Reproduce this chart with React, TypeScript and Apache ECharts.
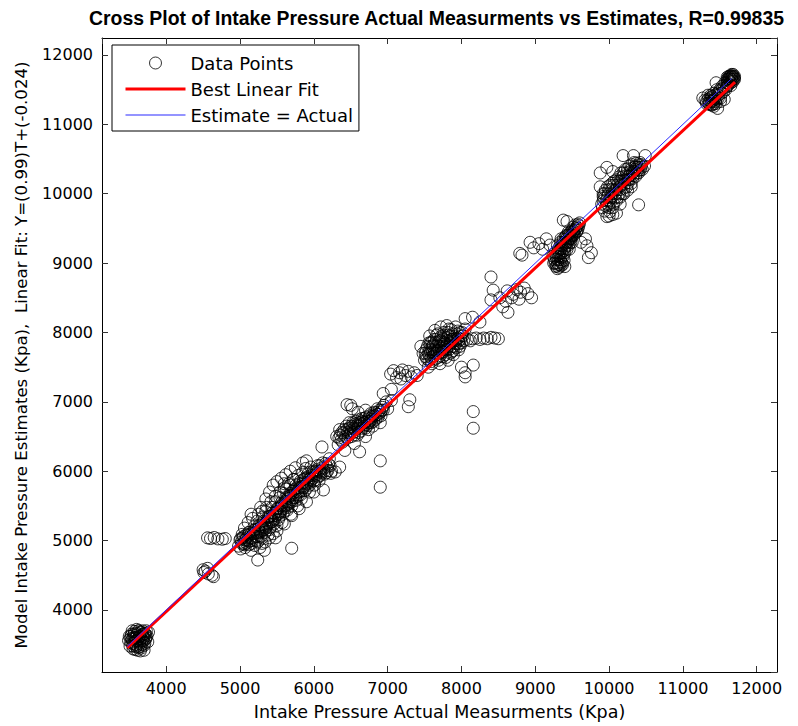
import React, { useEffect, useRef } from "react";
import * as echarts from "echarts";

// ---- axis settings (Kpa) ----
const X_MIN = 3130;
const X_MAX = 12275;
const Y_MIN = 3106;
const Y_MAX = 12245;
const TICK_STEP = 1000;

const TITLE = "Cross Plot of Intake Pressure Actual Measurments vs Estimates, R=0.99835";
const X_NAME = "Intake Pressure Actual Measurments (Kpa)";
const Y_NAME = "Model Intake Pressure Estimates (Kpa),  Linear Fit: Y=(0.99)T+(-0.024)";
const LEGEND = ["Data Points", "Best Linear Fit", "Estimate = Actual"];

// ---- data points [actual, estimate] ----
const clusterA = [
  [3490, 3560], [3500, 3620], [3510, 3480], [3520, 3590], [3530, 3650], [3540, 3520], [3550, 3440],
  [3560, 3600], [3570, 3690], [3580, 3550], [3590, 3470], [3600, 3640], [3610, 3420], [3620, 3580],
  [3630, 3700], [3640, 3510], [3650, 3620], [3660, 3450], [3670, 3680], [3680, 3560], [3690, 3610],
  [3700, 3490], [3710, 3660], [3720, 3580], [3730, 3700], [3740, 3630], [3750, 3540], [3760, 3680],
  [3540, 3700], [3600, 3720], [3580, 3430], [3650, 3410], [3700, 3420],
  [3520, 3540], [3540, 3580], [3560, 3520], [3560, 3640], [3580, 3600], [3590, 3500], [3600, 3560],
  [3610, 3660], [3620, 3460], [3630, 3610], [3640, 3540], [3650, 3680], [3660, 3590], [3670, 3500],
  [3680, 3640], [3690, 3550], [3700, 3600], [3710, 3520], [3720, 3650], [3730, 3600], [3550, 3480],
  [3600, 3480], [3650, 3470], [3570, 3660], [3620, 3700], [3680, 3700], [3520, 3620], [3700, 3660],
  [3640, 3620], [3590, 3600],
];

const cluster4500 = [
  [4500, 4580], [4530, 4560], [4560, 4600], [4570, 4520], [4620, 4500], [4640, 4480], [4510, 4540],
  [4560, 5040], [4600, 5030], [4650, 5045], [4700, 5025], [4760, 5020], [4800, 5030],
];

const clusterB = [
  [4980, 4920], [5000, 5010], [5010, 4880], [5030, 5090], [5050, 4960], [5060, 5180], [5070, 4900],
  [5090, 5040], [5110, 5260], [5120, 4940], [5130, 5120], [5150, 4860], [5160, 5000], [5170, 5320],
  [5190, 5200], [5200, 4930], [5210, 5060], [5230, 5280], [5240, 4980], [5250, 5380], [5260, 5140],
  [5270, 4900], [5290, 5240], [5300, 5040], [5310, 5340], [5330, 5160], [5340, 4980], [5350, 5420],
  [5370, 5260], [5380, 5080], [5400, 5350], [5410, 5190], [5430, 5480], [5440, 5280], [5450, 5100],
  [5470, 5400], [5480, 5560], [5500, 5220], [5510, 5460], [5530, 5340], [5540, 5620], [5560, 5500],
  [5570, 5260], [5590, 5680], [5600, 5420], [5620, 5560], [5630, 5740], [5650, 5480], [5660, 5640],
  [5680, 5800], [5690, 5380], [5700, 5560], [5720, 5720], [5730, 5880], [5750, 5620], [5760, 5800],
  [5780, 5500], [5790, 5940], [5800, 5700], [5820, 5860], [5830, 5600], [5850, 5980], [5860, 5760],
  [5880, 5900], [5890, 6040], [5910, 5820], [5920, 5960], [5940, 5700], [5960, 6060], [5970, 5880],
  [5990, 6000], [6010, 5800], [6030, 5940], [6050, 6080], [6070, 5860], [6090, 6000], [6120, 6120],
  [6150, 5960], [6180, 6060], [6210, 6180], [6240, 6000],
  [5450, 5800], [5500, 5850], [5560, 5900], [5620, 5950], [5680, 6000], [5600, 5820], [5400, 5700],
  [5350, 5600], [5750, 6050], [5850, 6120], [5900, 6150],
  [5240, 4720], [5700, 4890], [6110, 6350], [6130, 5730], [6290, 5990], [6350, 6060], [6230, 5970],
  [5330, 4860], [5480, 5040], [5150, 5380], [5280, 5480],
  [5020, 4980], [5040, 5040], [5060, 4940], [5080, 5080], [5100, 5000], [5120, 5120], [5140, 5040],
  [5160, 4960], [5180, 5100], [5200, 5160], [5220, 5000], [5240, 5120], [5260, 5220], [5280, 5060],
  [5300, 5180], [5320, 5280], [5340, 5120], [5360, 5220], [5380, 5340], [5400, 5160], [5420, 5300],
  [5440, 5400], [5460, 5240], [5480, 5360], [5500, 5460], [5520, 5300], [5540, 5420], [5560, 5540],
  [5580, 5380], [5600, 5500], [5620, 5620], [5640, 5440], [5660, 5560], [5680, 5680], [5700, 5500],
  [5720, 5620], [5740, 5740], [5760, 5580], [5780, 5700], [5800, 5820], [5820, 5660], [5840, 5780],
  [5860, 5880], [5880, 5720], [5900, 5840], [5920, 5920], [5940, 5800], [5960, 5900], [5980, 5980],
  [6000, 5860], [6020, 5960], [6040, 6020], [6060, 5920], [6080, 6080], [6100, 5980], [6130, 6040],
  [6160, 6110], [6190, 6010], [6220, 6080],
  [5010, 5030], [5030, 4950], [5050, 5060], [5070, 5010], [5090, 4960], [5110, 5080], [5130, 4990],
  [5150, 5100], [5170, 5040], [5190, 5140], [5210, 5110], [5230, 5060], [5250, 5170], [5270, 5120],
  [5290, 5200], [5310, 5150], [5330, 5230], [5350, 5180], [5370, 5300], [5390, 5240], [5410, 5350],
  [5430, 5270], [5450, 5360], [5470, 5310], [5490, 5420], [5510, 5380], [5530, 5470], [5550, 5410],
  [5570, 5520], [5590, 5460], [5610, 5570], [5630, 5510], [5650, 5610], [5670, 5540], [5690, 5650],
  [5710, 5590], [5730, 5690], [5750, 5660], [5770, 5760], [5790, 5650], [5810, 5760], [5830, 5720],
  [5850, 5830], [5870, 5780], [5890, 5890], [5910, 5760], [5930, 5880], [5950, 5840], [5970, 5940],
  [5990, 5900], [6010, 5990], [6030, 5880], [6060, 6000], [6090, 5940], [6110, 6050], [6140, 6000],
  [6170, 5980], [6200, 6100],
  [5300, 5420], [5360, 5480], [5420, 5560], [5480, 5640], [5540, 5700], [5600, 5760], [5660, 5820],
  [5720, 5880], [5300, 4960], [5400, 5040], [5500, 5140], [5600, 5240], [5700, 5360], [5800, 5460],
  [5900, 5560], [6000, 5700],
];

const clusterC = [
  [6310, 6500], [6330, 6380], [6350, 6600], [6370, 6450], [6400, 6550], [6420, 6300], [6440, 6650],
  [6460, 6480], [6480, 6700], [6500, 6550], [6500, 6950], [6520, 6900], [6540, 6620], [6550, 6400],
  [6570, 6720], [6590, 6520], [6600, 6650], [6620, 6280], [6640, 6580], [6650, 6760], [6680, 6650],
  [6700, 6500], [6720, 6720], [6740, 6600], [6760, 6800], [6780, 6700], [6800, 6650], [6820, 6850],
  [6840, 6750], [6860, 6900], [6880, 6820], [6900, 6700], [6920, 6880], [6950, 6950], [6980, 7000],
  [7000, 6900], [7050, 7020], [6450, 6960], [6600, 6850], [6700, 6880],
  [6900, 6150], [6900, 5770], [6940, 7120], [7300, 7030], [7280, 6930], [7050, 7180],
  [6360, 6520], [6390, 6420], [6410, 6600], [6430, 6500], [6460, 6560], [6480, 6620], [6510, 6500],
  [6530, 6700], [6560, 6600], [6580, 6660], [6610, 6560], [6630, 6700], [6660, 6620], [6690, 6700],
  [6710, 6780], [6730, 6660], [6760, 6720], [6790, 6780], [6810, 6720], [6830, 6800], [6860, 6820],
  [6890, 6880], [6910, 6800], [6940, 6880], [6500, 6650], [6600, 6740], [6700, 6620], [6550, 6520],
  [6650, 6680], [6750, 6760],
  [6340, 6480], [6380, 6560], [6420, 6460], [6450, 6600], [6490, 6580], [6520, 6640], [6560, 6680],
  [6590, 6620], [6620, 6660], [6650, 6720], [6680, 6700], [6720, 6680], [6750, 6700], [6780, 6740],
  [6800, 6800], [6840, 6840], [6870, 6780], [6900, 6850], [6930, 6920], [6470, 6520], [6540, 6560],
  [6610, 6700], [6680, 6760], [6770, 6830],
];

const clusterD = [
  [7040, 7400], [7080, 7450], [7120, 7350], [7160, 7420], [7200, 7460], [7240, 7380], [7280, 7440],
  [7320, 7360], [7360, 7420], [7400, 7380], [7180, 7330],
  [7500, 7600], [7520, 7750], [7550, 7500], [7560, 7680], [7580, 7850], [7600, 7550], [7610, 7720],
  [7630, 7900], [7650, 7620], [7660, 7800], [7680, 7980], [7700, 7700], [7710, 7550], [7730, 7880],
  [7750, 7650], [7760, 8000], [7780, 7780], [7800, 7920], [7820, 7600], [7830, 8050], [7850, 7850],
  [7870, 7720], [7880, 7980], [7900, 7800], [7920, 8080], [7940, 7900], [7960, 7750], [7980, 8000],
  [8000, 7850], [8020, 7950], [8050, 8050], [8080, 7900], [7640, 8030], [7720, 8080], [7800, 8100],
  [7570, 7950], [7480, 7700], [7450, 7800],
  [7520, 7650], [7540, 7800], [7560, 7600], [7580, 7720], [7600, 7860], [7620, 7660], [7640, 7760],
  [7660, 7900], [7680, 7640], [7700, 7800], [7720, 7940], [7740, 7720], [7760, 7860], [7780, 7680],
  [7800, 7820], [7820, 7960], [7840, 7760], [7860, 7900], [7880, 7800], [7900, 7940], [7920, 7840],
  [7940, 7980], [7960, 7880], [7980, 7800], [8000, 7950], [8030, 7880], [7600, 7750], [7700, 7750],
  [7800, 7750], [7650, 7700], [7750, 7800], [7850, 7950], [7700, 7880], [7620, 7820], [7880, 7900],
  [7550, 7700], [7650, 7850], [7750, 7900], [7950, 8020], [7820, 8000],
  [7510, 7700], [7530, 7620], [7570, 7760], [7590, 7640], [7610, 7800], [7630, 7700], [7670, 7740],
  [7690, 7860], [7710, 7660], [7730, 7780], [7750, 7720], [7770, 7840], [7790, 7760], [7810, 7880],
  [7830, 7800], [7850, 7700], [7870, 7860], [7890, 7740], [7910, 7880], [7930, 7780], [7950, 7920],
  [7970, 7840], [7990, 7900], [8010, 8000], [7560, 7850], [7660, 7960], [7760, 7960], [7860, 8040],
  [7590, 7580], [7690, 7600], [7790, 7640], [7890, 7680],
  [8150, 7910], [8200, 7920], [8250, 7900], [8300, 7920], [8350, 7910], [8400, 7930], [8450, 7920],
  [8500, 7910], [8120, 7880],
  [8000, 7500], [8050, 7420], [8160, 7530], [8050, 7360], [8160, 6860], [8160, 6620],
  [8050, 8200], [8150, 8220], [8250, 8150],
  [8400, 8800], [8430, 8610], [8400, 8470], [8560, 8370], [8630, 8290], [8520, 8500], [8600, 8450],
  [8620, 8600], [8680, 8500], [8700, 8550], [8750, 8620], [8780, 8480], [8800, 8580], [8850, 8640],
  [8900, 8560], [8950, 8500], [8790, 9140],
];

const clusterE = [
  [9250, 9000], [9270, 9150], [9280, 8950], [9300, 9250], [9310, 9050], [9320, 8940], [9340, 9200],
  [9350, 9350], [9360, 9000], [9380, 9280], [9400, 9150], [9420, 9400], [9430, 9300], [9450, 9450],
  [9460, 9200], [9480, 9350], [9500, 9480], [9520, 9400], [9540, 9550], [9560, 9450], [9580, 9500],
  [9600, 9580], [9350, 8960], [9300, 8920], [9400, 8950], [9500, 9300], [9240, 9100],
  [8930, 9300], [8980, 9220], [9050, 9280], [9100, 9200], [9150, 9350], [9200, 9260], [8820, 9115],
  [9380, 9620], [9430, 9600], [9620, 9300], [9700, 9250], [9760, 9150], [9680, 9350], [9720, 9080],
  [9260, 9050], [9280, 9100], [9300, 9000], [9300, 9150], [9320, 9100], [9320, 9220], [9340, 9050],
  [9340, 9300], [9360, 9150], [9360, 9250], [9380, 9100], [9380, 9350], [9400, 9220], [9400, 9300],
  [9420, 9250], [9420, 9350], [9440, 9300], [9440, 9400], [9460, 9350], [9460, 9420], [9480, 9300],
  [9480, 9450], [9500, 9400], [9520, 9460], [9520, 9520], [9540, 9480], [9560, 9520], [9580, 9560],
  [9330, 8980], [9370, 8980], [9290, 8960], [9350, 9020],
  [9270, 9000], [9290, 9060], [9310, 9180], [9330, 9140], [9350, 9080], [9350, 9200], [9370, 9300],
  [9390, 9180], [9410, 9280], [9410, 9380], [9430, 9200], [9450, 9330], [9470, 9400], [9490, 9380],
  [9510, 9440], [9530, 9420], [9550, 9500], [9570, 9470], [9590, 9540], [9310, 8980], [9390, 9040],
  [9450, 9260],
];

const clusterF = [
  [9900, 9850], [9920, 10000], [9940, 9750], [9960, 9900], [9980, 10100], [10000, 9800],
  [10020, 9950], [10040, 10150], [10060, 9850], [10080, 10050], [10100, 10200], [10120, 9950],
  [10140, 10100], [10160, 10300], [10180, 10000], [10200, 10200], [10220, 10350], [10240, 10100],
  [10260, 10250], [10280, 10400], [10300, 10150], [10320, 10300], [10340, 10450], [10360, 10250],
  [10380, 10380], [10400, 10300], [10420, 10450], [10450, 10350], [10480, 10400], [10050, 9700],
  [10100, 9720], [10150, 9850], [10000, 9680],
  [10190, 10550], [10330, 10550], [10490, 10550], [10400, 9840], [9880, 10300], [9970, 10380],
  [10050, 10320], [9880, 10100], [9920, 9960], [9970, 9670], [10010, 9740],
  [9920, 9900], [9940, 10000], [9960, 9820], [9980, 9960], [10000, 10060], [10020, 9880],
  [10040, 10000], [10060, 10120], [10080, 9940], [10100, 10060], [10120, 10180], [10140, 10000],
  [10160, 10120], [10180, 10240], [10200, 10080], [10220, 10200], [10240, 10300], [10260, 10160],
  [10280, 10260], [10300, 10360], [10320, 10220], [10340, 10320], [10360, 10400], [10380, 10300],
  [10400, 10380], [10420, 10340], [10440, 10420], [10100, 9900], [10200, 10000], [10300, 10100],
  [10000, 9900], [10150, 10180], [10250, 10200], [10350, 10350],
  [9910, 9800], [9930, 9930], [9950, 10050], [9970, 9860], [9990, 10000], [10010, 10120],
  [10030, 9940], [10050, 10060], [10070, 10180], [10090, 10000], [10110, 10120], [10130, 10240],
  [10150, 10060], [10170, 10180], [10190, 10300], [10210, 10140], [10230, 10260], [10250, 10360],
  [10270, 10200], [10290, 10320], [10310, 10420], [10330, 10260], [10350, 10380], [10370, 10440],
  [10390, 10340], [10410, 10420], [10430, 10380], [10050, 9800], [10150, 9950], [10250, 10050],
];

const clusterG = [
  [11300, 11350], [11320, 11300], [11340, 11420], [11360, 11340], [11380, 11280], [11390, 11400],
  [11400, 11330], [11420, 11450], [11430, 11370], [11450, 11300], [11460, 11500], [11480, 11420],
  [11500, 11480], [11510, 11380], [11530, 11550], [11550, 11470], [11570, 11600], [11590, 11540],
  [11600, 11650], [11620, 11580], [11630, 11680], [11640, 11620], [11650, 11700], [11660, 11650],
  [11670, 11690], [11680, 11620], [11690, 11680], [11650, 11560], [11620, 11690], [11680, 11720],
  [11450, 11600], [11470, 11230], [11420, 11260], [11270, 11380], [11560, 11360], [11510, 11330],
  [11320, 11330], [11340, 11360], [11350, 11300], [11370, 11380], [11380, 11330], [11400, 11400],
  [11410, 11350], [11420, 11300], [11440, 11420], [11450, 11360], [11470, 11450], [11480, 11380],
  [11500, 11500], [11520, 11450], [11540, 11520], [11560, 11560], [11580, 11500], [11600, 11600],
  [11610, 11560], [11620, 11640], [11640, 11660], [11650, 11600], [11660, 11680], [11670, 11640],
  [11680, 11700], [11690, 11660], [11700, 11690], [11660, 11720], [11640, 11700], [11620, 11660],
  [11600, 11680], [11700, 11650], [11380, 11420], [11360, 11290], [11400, 11280], [11440, 11330],
];

// ---- lines ----
const fitLine = [[3472, 3455], [11706, 11610]];
const identityLine = [[3470, 3470], [11662, 11662]];

const allPoints = [
  ...clusterA, ...cluster4500, ...clusterB, ...clusterC, ...clusterD, ...clusterE, ...clusterF, ...clusterG,
];

const FONT = "DejaVu Sans";

export default function App() {
  const ref = useRef<HTMLDivElement>(null);
  useEffect(() => {
    if (!ref.current) return;
    const chart = echarts.init(ref.current, undefined, { renderer: "svg" });
    const fmt = (v: number) => (v % TICK_STEP === 0 ? String(v) : "");
    const axisLineStyle = { color: "#000", width: 1 };
    const tick = { show: true, inside: true, length: 6, lineStyle: { color: "#333" } };
    const common = { minInterval: TICK_STEP, maxInterval: TICK_STEP, splitNumber: 9 };
    chart.setOption({
      animation: false,
      backgroundColor: "#fff",
      title: {
        text: TITLE,
        left: 84,
        top: 3,
        textStyle: { fontFamily: "Liberation Sans", fontWeight: "bold", fontSize: 19.4, color: "#000" },
      },
      legend: {
        data: [
          {
            name: LEGEND[0],
            icon: "path://M0,0M60,12M24,6a6,6 0 1,0 12,0a6,6 0 1,0 -12,0Z",
            itemStyle: { color: "rgba(0,0,0,0)", borderColor: "#000", borderWidth: 1 },
          },
          {
            name: LEGEND[1],
            icon: "path://M0,0H60V3H0Z",
            itemStyle: { color: "#ff0000", borderWidth: 0 },
          },
          {
            name: LEGEND[2],
            icon: "path://M0,0H60V1H0Z",
            itemStyle: { color: "#2b2bff", borderWidth: 0 },
          },
        ],
        orient: "vertical",
        left: 112,
        top: 45,
        backgroundColor: "#fff",
        borderColor: "#000",
        borderWidth: 1,
        borderRadius: 0,
        padding: [8, 6, 6, 13],
        itemWidth: 60,
        itemHeight: 12,
        itemGap: 6,
        selectedMode: false,
        textStyle: { fontFamily: FONT, fontSize: 18, color: "#000", lineHeight: 20 },
      },
      grid: { left: 102, right: 21, top: 38, bottom: 54 },
      xAxis: [
        {
          type: "value",
          min: X_MIN,
          max: X_MAX,
          ...common,
          name: X_NAME,
          nameLocation: "middle",
          nameGap: 31,
          nameTextStyle: { fontFamily: FONT, fontSize: 17.5, color: "#000" },
          axisLine: { show: true, lineStyle: axisLineStyle },
          axisTick: tick,
          axisLabel: {
            formatter: fmt,
            showMinLabel: false,
            showMaxLabel: false,
            fontFamily: FONT,
            fontSize: 16,
            color: "#000",
            margin: 8,
          },
          splitLine: { show: false },
        },
        {
          type: "value",
          position: "top",
          min: X_MIN,
          max: X_MAX,
          ...common,
          axisLine: { show: true, lineStyle: axisLineStyle },
          axisTick: tick,
          axisLabel: { show: false },
          splitLine: { show: false },
        },
      ],
      yAxis: [
        {
          type: "value",
          min: Y_MIN,
          max: Y_MAX,
          ...common,
          name: Y_NAME,
          nameLocation: "middle",
          nameGap: 72,
          nameTextStyle: { fontFamily: FONT, fontSize: 16.6, color: "#000" },
          axisLine: { show: true, lineStyle: axisLineStyle },
          axisTick: tick,
          axisLabel: {
            formatter: fmt,
            showMinLabel: false,
            showMaxLabel: false,
            fontFamily: FONT,
            fontSize: 16,
            color: "#000",
            margin: 9,
          },
          splitLine: { show: false },
        },
        {
          type: "value",
          position: "right",
          min: Y_MIN,
          max: Y_MAX,
          ...common,
          axisLine: { show: true, lineStyle: axisLineStyle },
          axisTick: tick,
          axisLabel: { show: false },
          splitLine: { show: false },
        },
      ],
      series: [
        {
          name: LEGEND[0],
          type: "scatter",
          data: allPoints,
          symbol: "circle",
          symbolSize: 12,
          silent: true,
          itemStyle: { color: "rgba(0,0,0,0)", borderColor: "#000", borderWidth: 1 },
        },
        {
          name: LEGEND[1],
          type: "line",
          data: fitLine,
          symbol: "none",
          showSymbol: false,
          silent: true,
          lineStyle: { color: "#ff0000", width: 3 },
          itemStyle: { color: "#ff0000" },
        },
        {
          name: LEGEND[2],
          type: "line",
          data: identityLine,
          symbol: "none",
          showSymbol: false,
          silent: true,
          lineStyle: { color: "#2b2bff", width: 1 },
          itemStyle: { color: "#2b2bff" },
        },
      ],
    });
    return () => chart.dispose();
  }, []);
  return (
    <div
      ref={ref}
      style={{ position: "absolute", left: 0, top: 0, width: 798, height: 726, background: "#fff" }}
    />
  );
}
